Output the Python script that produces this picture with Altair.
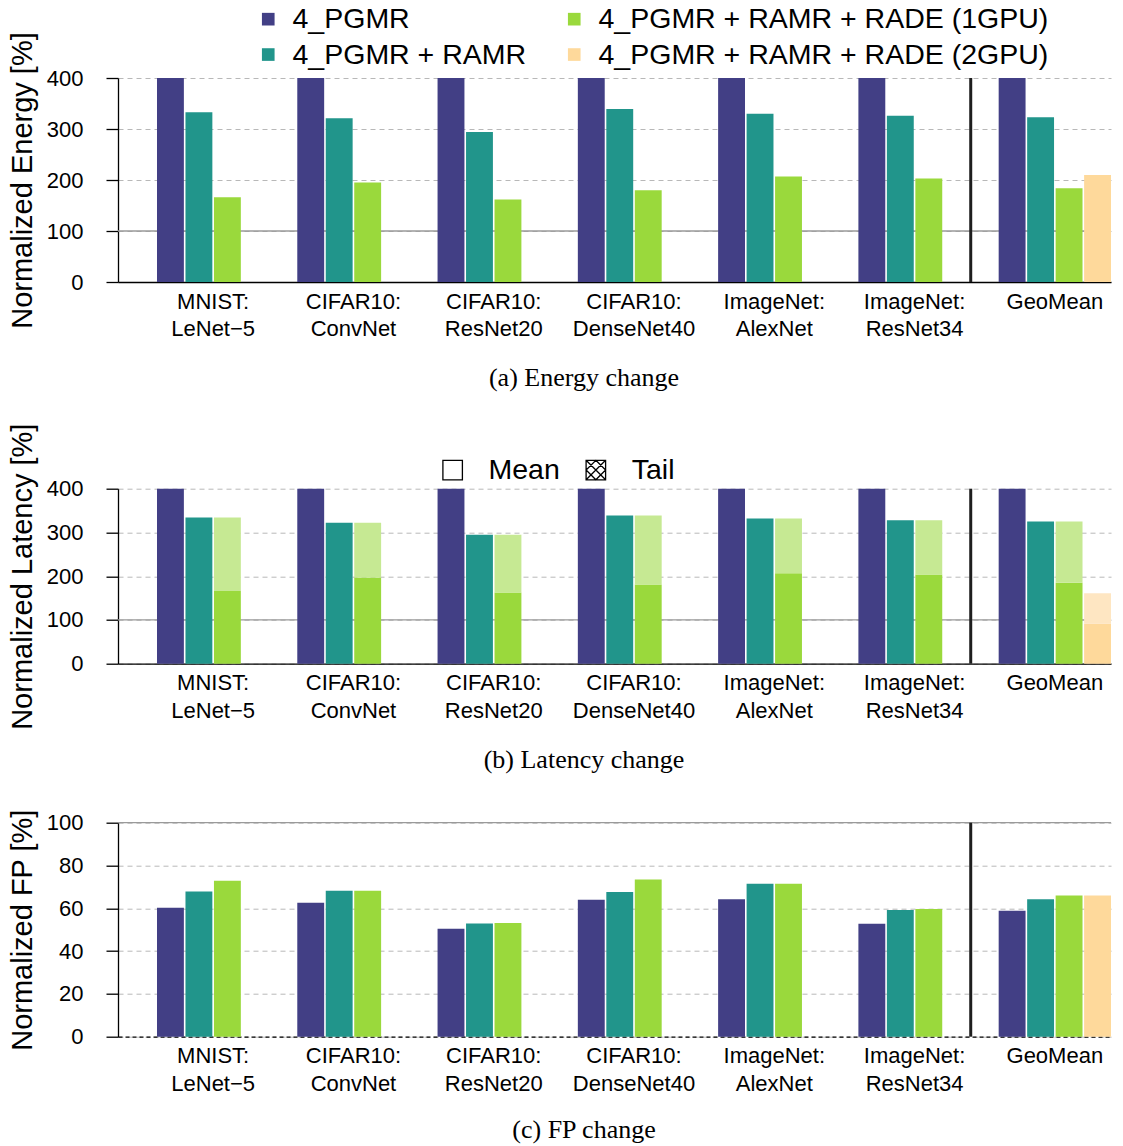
import altair as alt
import pandas as pd

SANS = "Liberation Sans"
SERIF = "Liberation Serif"

groups = ["MNIST:\nLeNet−5", "CIFAR10:\nConvNet", "CIFAR10:\nResNet20",
          "CIFAR10:\nDenseNet40", "ImageNet:\nAlexNet", "ImageNet:\nResNet34", "GeoMean"]
series = ["4_PGMR", "4_PGMR + RAMR", "4_PGMR + RAMR + RADE (1GPU)", "4_PGMR + RAMR + RADE (2GPU)"]
series_colors = ["#423f85", "#21958b", "#9ad93c", "#fed99b"]
tail_colors = ["#423f85", "#21958b", "#c6e993", "#fee6c2"]

energy_pgmr = [400, 400, 400, 400, 400, 400, 400]
energy_ramr = [333, 321, 294, 339, 330, 326, 323]
energy_rade1 = [166, 195, 162, 180, 207, 203, 184]
energy_rade2 = [None, None, None, None, None, None, 210]

lat_mean_pgmr = [400, 400, 400, 400, 400, 400, 400]
lat_mean_ramr = [334, 322, 295, 339, 332, 328, 325]
lat_mean_rade1 = [166, 197, 163, 181, 207, 204, 185]
lat_mean_rade2 = [None, None, None, None, None, None, 91]
lat_tail_rade1 = [334, 322, 295, 339, 332, 328, 325]
lat_tail_rade2 = [None, None, None, None, None, None, 161]

fp_pgmr = [60.2, 62.6, 50.5, 64.0, 64.2, 52.8, 58.9]
fp_ramr = [67.8, 68.2, 52.9, 67.6, 71.5, 59.2, 64.2]
fp_rade1 = [72.9, 68.2, 53.1, 73.5, 71.5, 59.7, 66.0]
fp_rade2 = [None, None, None, None, None, None, 66.0]

ticks_400 = [0, 100, 200, 300, 400]
ticks_100 = [0, 20, 40, 60, 80, 100]
kinds = ["Mean", "Tail"]
TAIL_PATH = "M-1,-1L1,-1L1,1L-1,1Z M-1,-1L1,1 M1,-1L-1,1 M0,-1L1,0L0,1L-1,0Z"

W = 993


def long_table(cols):
    rows = []
    for s, vals in zip(series, cols):
        for g, v in zip(groups, vals):
            if v is not None:
                rows.append({"group": g, "series": s, "value": v})
    return pd.DataFrame(rows)


def tail_table(series_idx, means, tails):
    rows = []
    for si, m_vals, t_vals in zip(series_idx, means, tails):
        for g, m, t in zip(groups, m_vals, t_vals):
            if m is not None and t is not None:
                rows.append({"group": g, "series": series[si], "lo": m, "value": t,
                             "fill": tail_colors[si]})
    return pd.DataFrame(rows)


xscale = alt.Scale(domain=groups, paddingInner=0.1993, paddingOuter=0.139, align=1, round=False)
offscale = alt.Scale(domain=series, paddingInner=0.056, paddingOuter=0)
color_scale = alt.Scale(domain=series, range=series_colors)


def x_axis(dashed=False):
    kw = dict(title=None, labelAngle=0, ticks=False, labelFontSize=22, labelLineHeight=27.5,
              labelPadding=9, labelExpr="split(datum.label, '\\n')", domainColor="black",
              domainWidth=1.3, labelColor="black", labelFont=SANS, grid=False)
    if dashed:
        kw["domainDash"] = [4, 3]
    return alt.Axis(**kw)


def y_axis(title, values):
    return alt.Axis(title=title, values=values, grid=True, gridDash=[5, 4], gridColor="#b8b8b8",
                    gridWidth=1, tickSize=12, tickColor="black", tickWidth=1.3,
                    domainColor="black", domainWidth=1.3, labelFontSize=22, labelPadding=23,
                    labelColor="black", labelFont=SANS, titleFontSize=29,
                    titleFontWeight="normal", titlePadding=9, titleColor="black", titleFont=SANS)


def panel(df, ymax, ticks, ytitle, caption, height, cap_offset, legend=None, dashed_x=False,
          tails=None, extra=None):
    yscale = alt.Scale(domain=[0, ymax], nice=False, zero=True)
    xa = x_axis(dashed_x)
    ya = y_axis(ytitle, ticks)
    ref = alt.Chart(pd.DataFrame({"value": [100]})).mark_rule(
        color="#9a9a9a", strokeWidth=1.3).encode(y=alt.Y("value:Q", scale=yscale, axis=ya))
    bars = alt.Chart(df).mark_bar().encode(
        x=alt.X("group:N", scale=xscale, axis=xa, sort=groups),
        xOffset=alt.XOffset("series:N", scale=offscale, sort=series),
        y=alt.Y("value:Q", scale=yscale, axis=ya),
        color=alt.Color("series:N", scale=color_scale, legend=legend),
    )
    layers = [ref, bars]
    if tails is not None:
        tail_bars = alt.Chart(tails).mark_bar().encode(
            x=alt.X("group:N", scale=xscale, axis=xa, sort=groups),
            xOffset=alt.XOffset("series:N", scale=offscale, sort=series),
            y=alt.Y("value:Q", scale=yscale, axis=ya),
            y2="lo:Q",
            fill=alt.Fill("fill:N", scale=None),
        )
        layers.append(tail_bars)
    sep = alt.Chart(pd.DataFrame({"group": [groups[5]]})).mark_rule(
        color="#1e1e1e", strokeWidth=3).encode(
        x=alt.X("group:N", scale=xscale, axis=xa, sort=groups, bandPosition=1))
    layers.append(sep)
    if extra is not None:
        layers.append(extra(yscale, xa, ya))
    return alt.layer(*layers).properties(
        width=W, height=height,
        title=alt.TitleParams(caption, orient="bottom", font=SERIF, fontSize=26,
                              fontWeight="normal", color="black", offset=cap_offset,
                              frame="group", anchor="middle", dx=-30.5),
    )


energy_df = long_table([energy_pgmr, energy_ramr, energy_rade1, energy_rade2])
lat_df = long_table([lat_mean_pgmr, lat_mean_ramr, lat_mean_rade1, lat_mean_rade2])
lat_tail_df = tail_table([2, 3], [lat_mean_rade1, lat_mean_rade2], [lat_tail_rade1, lat_tail_rade2])
fp_df = long_table([fp_pgmr, fp_ramr, fp_rade1, fp_rade2])

main_legend = alt.Legend(orient="none", legendX=136, legendY=-73.2, columns=2, title=None,
                         symbolType="square", symbolSize=160, symbolStrokeWidth=0,
                         labelFontSize=28.5, labelFont=SANS, labelColor="black", labelOffset=10,
                         columnPadding=33, rowPadding=6.5, labelLimit=600, padding=0)


def kind_legend_layer(yscale, xa, ya):
    kd = pd.DataFrame({"kind": kinds, "group": [groups[0], groups[0]], "value": [0, 0]})
    return alt.Chart(kd).mark_point(opacity=0, filled=False).encode(
        x=alt.X("group:N", scale=xscale, axis=xa, sort=groups),
        y=alt.Y("value:Q", scale=yscale, axis=ya),
        shape=alt.Shape("kind:N", scale=alt.Scale(domain=kinds, range=["square", TAIL_PATH]),
                        legend=alt.Legend(orient="none", legendX=320.4, legendY=-33,
                                          direction="horizontal", title=None, symbolSize=380,
                                          symbolStrokeColor="black", symbolFillColor="white",
                                          symbolStrokeWidth=1.3, symbolOpacity=1,
                                          labelFontSize=28.5, labelOffset=21.6,
                                          columnPadding=21.2, labelFont=SANS,
                                          labelColor="black", padding=0)),
    )


pa = panel(energy_df, 400, ticks_400, "Normalized Energy [%]", "(a) Energy change", 204, 25,
           legend=main_legend)
pb = panel(lat_df, 400, ticks_400, "Normalized Latency [%]", "(b) Latency change", 175, 17.4,
           legend=None, tails=lat_tail_df, extra=kind_legend_layer)
pc = panel(fp_df, 100, ticks_100, "Normalized FP [%]", "(c) FP change", 214, 23,
           legend=None, dashed_x=True)

top = alt.vconcat(pa, pb, spacing=31.7).resolve_scale(
    color="independent", shape="independent").resolve_legend(
    color="independent", shape="independent")

chart = alt.vconcat(top, pc, spacing=35.7).resolve_scale(
    color="independent", shape="independent").resolve_legend(
    color="independent", shape="independent").properties(
    padding={"left": 0, "top": -4, "right": 0, "bottom": 0}).configure_view(stroke=None)

chart.save("out.html", embed_options={"renderer": "svg", "actions": False})
